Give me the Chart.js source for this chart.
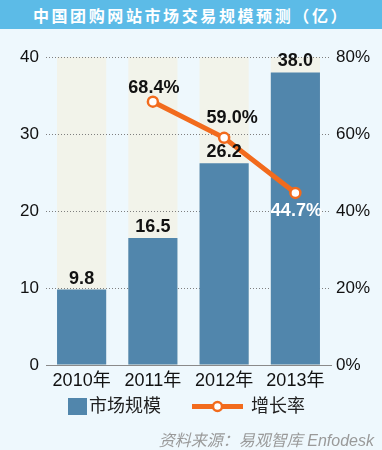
<!DOCTYPE html>
<html><head><meta charset="utf-8">
<script src="https://cdn.jsdelivr.net/npm/chart.js@4"></script>
<style>
html,body{margin:0;padding:0;}
body{width:382px;height:450px;background:#eef8fd;position:relative;overflow:hidden;font-family:"Liberation Sans","Noto Sans CJK SC",sans-serif;}
#banner{position:absolute;left:0;top:0;width:382px;height:29px;background:#5cbbe7;color:#fff;font-weight:bold;font-size:16px;line-height:30px;text-align:center;letter-spacing:2.6px;font-family:"Noto Sans CJK SC","Liberation Sans",sans-serif;}
#src{position:absolute;right:8px;top:427px;font-size:16px;font-style:italic;color:#9a9a9a;font-family:"Liberation Sans","Noto Sans CJK SC",sans-serif;}
canvas{position:absolute;left:0;top:0;}
</style></head>
<body>
<div id="banner">中国团购网站市场交易规模预测（亿）</div>
<canvas id="c" width="382" height="450"></canvas>
<div id="src">资料来源：易观智库 Enfodesk</div>
<script>
const categories = ["2010年","2011年","2012年","2013年"];
const marketSize = [9.8, 16.5, 26.2, 38.0];
const growthRate = [null, 68.4, 59.0, 44.7];
const leftTicks = [0, 10, 20, 30, 40];
const rightTicks = [0, 20, 40, 60, 80];
const seriesNames = ["市场规模", "增长率"];

const BAR = "#5186ac", LINE = "#f26b1d", BAND = "#f2f3ea";
const FONT = '"Liberation Sans","Noto Sans CJK SC",sans-serif';

const bandPlugin = {
  id: 'bands',
  beforeDraw(chart) {
    const {ctx, chartArea} = chart;
    const meta = chart.getDatasetMeta(1);
    ctx.save();
    ctx.fillStyle = BAND;
    meta.data.forEach(el => {
      ctx.fillRect(el.x - el.width/2, chartArea.top, el.width, chartArea.bottom - chartArea.top);
    });
    ctx.restore();
  }
};

const lineLabelStyle = [null, {dx:1, dy:-14, color:'#111'}, {dx:8, dy:-20, color:'#111'}, {dx:1, dy:18, color:'#fff'}];

const labelPlugin = {
  id: 'labels',
  afterDatasetsDraw(chart) {
    const {ctx} = chart;
    ctx.save();
    ctx.font = 'bold 18px ' + FONT;
    ctx.textAlign = 'center';
    ctx.textBaseline = 'middle';
    const barMeta = chart.getDatasetMeta(1);
    barMeta.data.forEach((el, i) => {
      ctx.fillStyle = '#111';
      ctx.fillText(marketSize[i].toFixed(1), el.x, el.y - 11);
    });
    const lineMeta = chart.getDatasetMeta(0);
    lineMeta.data.forEach((el, i) => {
      if (growthRate[i] == null) return;
      const s = lineLabelStyle[i];
      ctx.fillStyle = s.color;
      ctx.fillText(growthRate[i].toFixed(1) + '%', el.x + s.dx, el.y + s.dy);
    });
    ctx.restore();
  },
  afterDraw(chart) {
    const {ctx} = chart;
    ctx.save();
    ctx.fillStyle = BAR;
    ctx.fillRect(68, 398, 19, 17);
    ctx.font = '18px ' + FONT;
    ctx.textBaseline = 'middle';
    ctx.textAlign = 'left';
    ctx.fillStyle = '#222';
    ctx.fillText(seriesNames[0], 89, 407);
    ctx.strokeStyle = LINE;
    ctx.lineWidth = 5;
    ctx.beginPath(); ctx.moveTo(192, 406.5); ctx.lineTo(243, 406.5); ctx.stroke();
    ctx.beginPath(); ctx.arc(217.5, 406.5, 4.5, 0, Math.PI*2);
    ctx.fillStyle = '#fff'; ctx.fill();
    ctx.lineWidth = 2.5; ctx.stroke();
    ctx.fillStyle = '#222';
    ctx.fillText(seriesNames[1], 251, 407);
    ctx.restore();
  }
};

new Chart(document.getElementById('c'), {
  data: {
    labels: categories,
    datasets: [
      {type:'line', label: seriesNames[1], data: growthRate, yAxisID:'yr', order:0,
       borderColor: LINE, borderWidth: 5, pointRadius: 5, pointBorderWidth: 2.5,
       pointBackgroundColor:'#fff', pointBorderColor: LINE, spanGaps:false, tension:0},
      {type:'bar', label: seriesNames[0], data: marketSize, yAxisID:'y', order:1,
       backgroundColor: BAR, barPercentage: 0.69, categoryPercentage: 1.0}
    ]
  },
  options: {
    responsive:false, animation:false, devicePixelRatio:1,
    layout:{padding:{top:57, bottom:55, left:0, right:0}},
    plugins:{legend:{display:false}, tooltip:{enabled:false}},
    scales:{
      x:{
        grid:{display:false, drawTicks:false},
        border:{display:true, color:'#8a8a8a', width:1},
        ticks:{color:'#111', font:{size:18, family:FONT}, padding:5},
        afterFit(s){ s.height = 30; }
      },
      y:{
        position:'left', min:0, max:40,
        afterBuildTicks(s){ s.ticks = leftTicks.map(v => ({value:v})); },
        grid:{color:'#7f7f7f', drawTicks:false, lineWidth:1},
        border:{display:false, dash:[1,2]},
        ticks:{color:'#111', font:{size:17, family:FONT}, padding:7},
        afterFit(s){ s.width = 46; }
      },
      yr:{
        position:'right', min:0, max:80,
        afterBuildTicks(s){ s.ticks = rightTicks.map(v => ({value:v})); },
        grid:{display:false, drawTicks:false},
        border:{display:false},
        ticks:{color:'#111', font:{size:17, family:FONT}, padding:5, callback:v => v + '%'},
        afterFit(s){ s.width = 51; }
      }
    }
  },
  plugins:[bandPlugin, labelPlugin]
});
</script>
</body></html>
